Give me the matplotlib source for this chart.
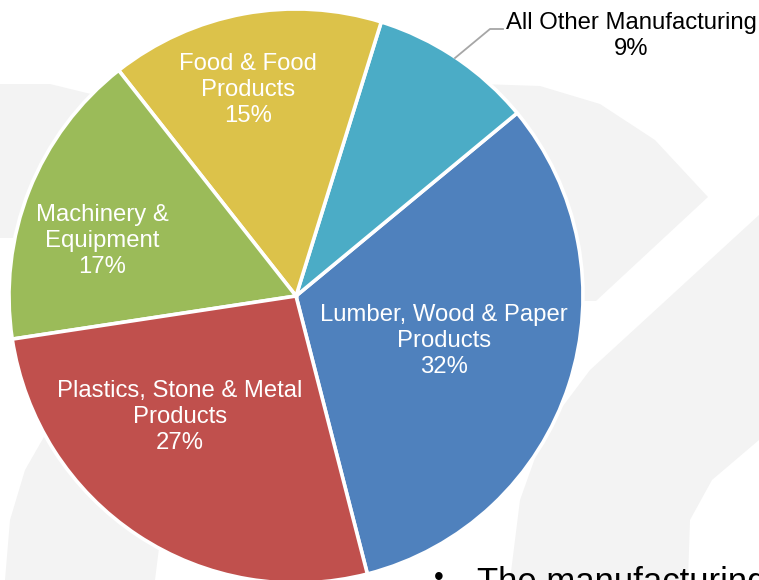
import matplotlib
matplotlib.use("Agg")
import matplotlib.pyplot as plt
from matplotlib.patches import Polygon

# ---- data ----
categories = ["Lumber, Wood & Paper\nProducts", "All Other Manufacturing",
              "Food & Food\nProducts", "Machinery &\nEquipment",
              "Plastics, Stone & Metal\nProducts"]
values = [32.0, 9.2, 15.4, 16.8, 26.6]   # shares
colors = ["#4F81BD", "#4BACC6", "#DCC24A", "#9BBB59", "#C0504D"]

W, H = 759, 580
plt.rcParams['font.family'] = ['Liberation Sans', 'DejaVu Sans']
fig = plt.figure(figsize=(W / 100, H / 100), dpi=100)
ax = fig.add_axes([0, 0, 1, 1])

def py(y):
    return H - y

# faint background shapes (slide decoration)
bg = "#F3F3F3"
shapes = [
    [(480, 84), (540, 86), (600, 104), (655, 140), (708, 197), (596, 301), (400, 300)],
    [(759, 215), (759, 440), (712, 480), (690, 520), (688, 580), (510, 580),
     (520, 500), (545, 430), (590, 370)],
    [(0, 84), (50, 84), (95, 95), (200, 160), (200, 238), (0, 238)],
    [(5, 580), (10, 520), (25, 470), (45, 435), (120, 440), (160, 540), (155, 580)],
]
for s in shapes:
    ax.add_patch(Polygon([(x, py(y)) for x, y in s], closed=True,
                         facecolor=bg, edgecolor="none", zorder=0))

cx, cy, R = 296, 296, 287
wedges, _ = ax.pie(values, colors=colors, startangle=-75.6, counterclock=True,
                   center=(cx, py(cy)), radius=R,
                   wedgeprops=dict(edgecolor="white", linewidth=2.6),
                   frame=True)
for w in wedges:
    w.set_zorder(2)

ax.set_xlim(0, W)
ax.set_ylim(0, H)
ax.set_aspect("equal")
ax.axis("off")

fs = 17.2
ls = 1.24
# inside labels (pixel positions of label centers)
inside = {0: (444, 341), 2: (248, 90), 3: (102, 241), 4: (180, 417)}
for i, (x, y) in inside.items():
    ax.text(x, py(y), f"{categories[i]}\n{round(values[i])}%", ha="center", va="center",
            color="white", fontsize=fs, linespacing=ls, zorder=5)

# outside label for small slice
ax.text(631, py(36), f"{categories[1]}\n{round(values[1])}%", ha="center", va="center",
        color="black", fontsize=fs, linespacing=ls, zorder=5)
ax.plot([455, 490, 503], [py(58), py(29), py(29)], color="#A6A6A6", lw=1.3, zorder=4)

# cut-off slide text at the bottom (cropped in the original too)
ax.text(439, py(578), "\u2022", ha="center", va="center", fontsize=20, color="black", zorder=5)
ax.text(477, py(566), "The manufacturing", ha="left", va="top", fontsize=25,
        color="black", zorder=5)

fig.savefig("out.png", dpi=100)
